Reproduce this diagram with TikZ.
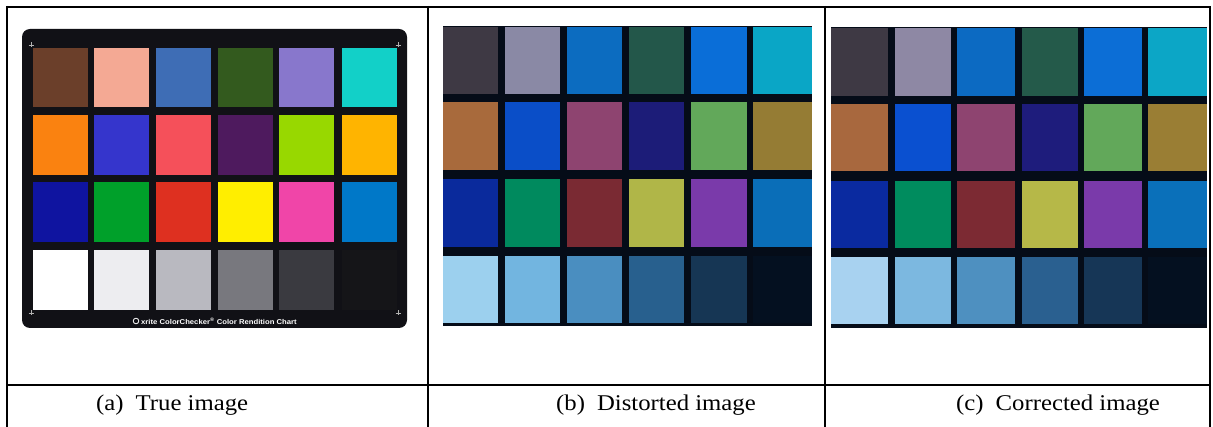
\documentclass[tikz,border=0pt]{standalone}
\usepackage{fontspec}
\setmainfont{Liberation Serif}
\newfontfamily\capfont[FakeStretch=1.1]{Liberation Serif}
\newfontfamily\chartsans[FakeStretch=1.1]{Liberation Sans}

% ColorChecker patches as printed
\definecolor{ta11}{HTML}{6B3F2A}\definecolor{ta12}{HTML}{F4A994}\definecolor{ta13}{HTML}{3E6DB5}
\definecolor{ta14}{HTML}{335A1E}\definecolor{ta15}{HTML}{8877CC}\definecolor{ta16}{HTML}{12D0C8}
\definecolor{ta21}{HTML}{FA8210}\definecolor{ta22}{HTML}{3535CC}\definecolor{ta23}{HTML}{F5505A}
\definecolor{ta24}{HTML}{4E1A5E}\definecolor{ta25}{HTML}{98D800}\definecolor{ta26}{HTML}{FFB400}
\definecolor{ta31}{HTML}{0F14A0}\definecolor{ta32}{HTML}{00A02A}\definecolor{ta33}{HTML}{DE3020}
\definecolor{ta34}{HTML}{FFEE00}\definecolor{ta35}{HTML}{F045A8}\definecolor{ta36}{HTML}{0078C8}
\definecolor{ta41}{HTML}{FFFFFF}\definecolor{ta42}{HTML}{EDEDF0}\definecolor{ta43}{HTML}{B9B9C0}
\definecolor{ta44}{HTML}{78787E}\definecolor{ta45}{HTML}{3A3A40}\definecolor{ta46}{HTML}{151518}
% distorted capture
\definecolor{tb11}{HTML}{3E3944}\definecolor{tb12}{HTML}{8A89A5}\definecolor{tb13}{HTML}{0C6CC0}
\definecolor{tb14}{HTML}{23574A}\definecolor{tb15}{HTML}{0A6ED8}\definecolor{tb16}{HTML}{0AA6C6}
\definecolor{tb21}{HTML}{A86A3C}\definecolor{tb22}{HTML}{0A4EC8}\definecolor{tb23}{HTML}{8E4470}
\definecolor{tb24}{HTML}{1C1C78}\definecolor{tb25}{HTML}{62A85A}\definecolor{tb26}{HTML}{957C34}
\definecolor{tb31}{HTML}{0A2A9C}\definecolor{tb32}{HTML}{008A5E}\definecolor{tb33}{HTML}{7A2A33}
\definecolor{tb34}{HTML}{B0B648}\definecolor{tb35}{HTML}{7A3AAA}\definecolor{tb36}{HTML}{0A6EB8}
\definecolor{tb41}{HTML}{9CD0EE}\definecolor{tb42}{HTML}{72B5E0}\definecolor{tb43}{HTML}{4A8EC0}
\definecolor{tb44}{HTML}{28608E}\definecolor{tb45}{HTML}{163654}\definecolor{tb46}{HTML}{041020}
% corrected capture
\definecolor{tc11}{HTML}{3E3944}\definecolor{tc12}{HTML}{8E88A4}\definecolor{tc13}{HTML}{0C6AC2}
\definecolor{tc14}{HTML}{245A4A}\definecolor{tc15}{HTML}{0C6ED6}\definecolor{tc16}{HTML}{0CA6C6}
\definecolor{tc21}{HTML}{A8683E}\definecolor{tc22}{HTML}{0A50D0}\definecolor{tc23}{HTML}{8E4470}
\definecolor{tc24}{HTML}{1E1C7C}\definecolor{tc25}{HTML}{62A85A}\definecolor{tc26}{HTML}{9A7E34}
\definecolor{tc31}{HTML}{0A2AA0}\definecolor{tc32}{HTML}{008C5E}\definecolor{tc33}{HTML}{7C2A33}
\definecolor{tc34}{HTML}{B6B848}\definecolor{tc35}{HTML}{7A3AAA}\definecolor{tc36}{HTML}{0A70BA}
\definecolor{tc41}{HTML}{A8D2F0}\definecolor{tc42}{HTML}{7CB8E0}\definecolor{tc43}{HTML}{4E90C0}
\definecolor{tc44}{HTML}{2A6090}\definecolor{tc45}{HTML}{163656}\definecolor{tc46}{HTML}{041020}
\definecolor{cardbg}{HTML}{111116}
\definecolor{shotbg}{HTML}{050C18}

\tikzset{
  rule/.style={line width=2pt, black},
  caption/.style={anchor=base west, inner sep=0pt, font=\capfont\fontsize{22.5}{26}\selectfont},
  regmark/.style={line width=0.6pt, gray!60},
}

\begin{document}
\begin{tikzpicture}[x=1pt,y=-1pt]
\useasboundingbox (0,0) rectangle (1213,427);
\fill[white] (0,0) rectangle (1213,427);

% (a) reference card
\fill[cardbg, rounded corners=8pt] (22,29) rectangle (407,328);
\foreach \r/\ya/\yb in {1/48/107, 2/115/175, 3/182/242, 4/250/310}
  \foreach \c/\xa/\xb in {1/33/88, 2/94/149, 3/156/211, 4/218/273, 5/279/334, 6/342/397}
    \fill[ta\r\c] (\xa,\ya) rectangle (\xb,\yb);
\foreach \px/\py in {31/45, 398/45, 31/313, 398/313}
  \draw[regmark] (\px-2.5,\py) -- (\px+2.5,\py) (\px,\py-2.5) -- (\px,\py+2.5);
\draw[white, line width=0.8pt] (136,321) circle (2.8pt);
\node[anchor=west, inner sep=0pt, text=white, font=\chartsans\bfseries\fontsize{7}{8}\selectfont]
  (brand) at (141,321) {xrite ColorChecker\textsuperscript{\tiny\textregistered} Color Rendition Chart};

% (b) distorted capture
\fill[shotbg] (443,26) rectangle (812,326);
\foreach \r/\ya/\yb in {1/27/94, 2/102/170, 3/179/247, 4/256/323}
  \foreach \c/\xa/\xb in {1/443/498, 2/505/560, 3/567/622, 4/629/684, 5/691/747, 6/753/812}
    \fill[tb\r\c] (\xa,\ya) rectangle (\xb,\yb);

% (c) corrected capture
\fill[shotbg] (831,27) rectangle (1207,328);
\foreach \r/\ya/\yb in {1/28/96, 2/104/171, 3/181/248, 4/257/324}
  \foreach \c/\xa/\xb in {1/831/888, 2/895/951, 3/957/1015, 4/1022/1078, 5/1084/1142, 6/1148/1207}
    \fill[tc\r\c] (\xa,\ya) rectangle (\xb,\yb);

% table rules
\draw[rule] (6,7) -- (1211,7);
\draw[rule] (6,385) -- (1211,385);
\foreach \x in {7,428,825,1210}
  \draw[rule] (\x,6) -- (\x,427);

% captions
\node[caption] (capa) at (96,411) {(a)\hspace{12pt}True image};
\node[caption] (capb) at (556,411) {(b)\hspace{12pt}Distorted image};
\node[caption] (capc) at (956,411) {(c)\hspace{12pt}Corrected image};
\end{tikzpicture}
\end{document}
